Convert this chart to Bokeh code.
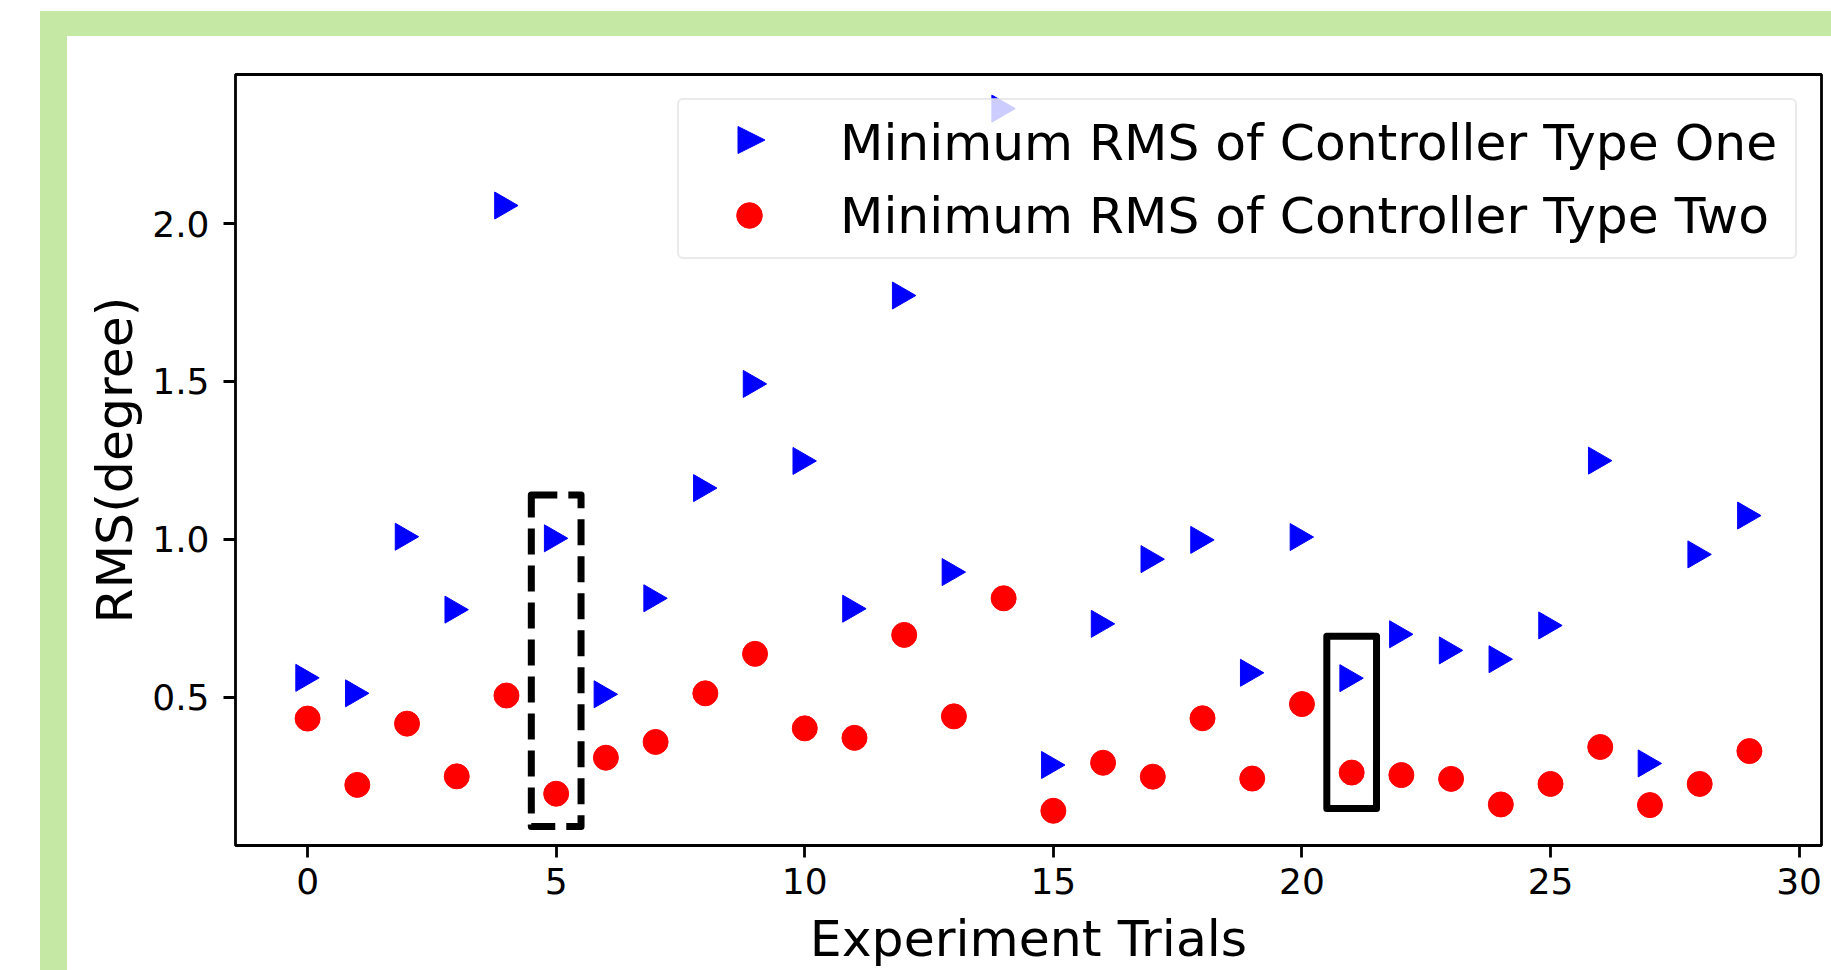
import math
from bokeh.plotting import figure
from bokeh.models import (Range1d, FixedTicker, Legend, LegendItem, ColumnDataSource,
                          PolyAnnotation, BoxAnnotation, GlobalInlineStyleSheet)
from bokeh.transform import dodge
from bokeh.embed import file_html
from bokeh.resources import INLINE

# ---------------- data ----------------
trials = list(range(30))
rms_type_one = [0.561, 0.512, 1.008, 0.777, 2.057, 1.003, 0.509, 0.813, 1.162, 1.492,
                1.248, 0.780, 1.772, 0.896, 2.364, 0.285, 0.732, 0.937, 0.998, 0.577,
                1.007, 0.560, 0.699, 0.648, 0.620, 0.727, 1.249, 0.290, 0.952, 1.075]
rms_type_two = [0.432, 0.222, 0.416, 0.249, 0.505, 0.194, 0.308, 0.358, 0.512, 0.637,
                0.401, 0.371, 0.697, 0.439, 0.813, 0.140, 0.292, 0.248, 0.433, 0.242,
                0.478, 0.261, 0.253, 0.241, 0.160, 0.225, 0.342, 0.158, 0.225, 0.329]
series_labels = ["Minimum RMS of Controller Type One", "Minimum RMS of Controller Type Two"]
x_ticks = [0, 5, 10, 15, 20, 25, 30]
y_ticks = [0.5, 1.0, 1.5, 2.0]
y_tick_labels = ["0.5", "1.0", "1.5", "2.0"]
x_label = "Experiment Trials"
y_label = "RMS(degree)"
x_limits = (-1.45, 30.45)
y_limits = (0.030, 2.472)
# highlight boxes (data units)
dashed_box = dict(left=[4.5], right=[5.5], bottom=[0.09], top=[1.14])
solid_box = dict(left=[20.5], right=[21.5], bottom=[0.147], top=[0.693])

# ---------------- style ----------------
FONT = "DejaVu Sans"
GREEN = "#c5e8a5"
BLUE = "#0000ff"
RED = "#ff0000"
LABEL_SIZE = "50.5px"
LEGEND_SIZE = "50.3px"
TRI_SIZE = 27

# layout (canvas pixels)
BORDER_L, BORDER_R, BORDER_T, BORDER_B = 168, 10, 38, 145
FIG_W, FIG_H = 1764, 954
FRAME_R = FIG_W - BORDER_R
LEG_MARGIN, LEG_PAD, LEG_SPACING = 24, 10, 9
LEG_GLYPH_W, LEG_ROW_H = 120, 64
LEG_W, LEG_H = 1118, 2 * LEG_ROW_H + LEG_SPACING + 2 * LEG_PAD

p = figure(width=FIG_W, height=FIG_H, output_backend="svg", toolbar_location=None,
           title=None,
           x_range=Range1d(*x_limits), y_range=Range1d(*y_limits),
           min_border_left=BORDER_L, min_border_right=BORDER_R,
           min_border_top=BORDER_T, min_border_bottom=BORDER_B,
           background_fill_color="white", border_fill_color="white")
p.styles = {
    "position": "absolute",
    "left": "67px",
    "top": "36px",
    "box-shadow": f"-27px 0 0 0 {GREEN}, 0 -25px 0 0 {GREEN}, -27px -25px 0 0 {GREEN}",
}
p.stylesheets = [GlobalInlineStyleSheet(css="html, body { overflow: hidden; }")]
p.xgrid.visible = False
p.ygrid.visible = False
p.outline_line_color = "black"
p.outline_line_width = 2.8
p.outline_line_alpha = 1.0

src = ColumnDataSource(dict(trial=trials, one=rms_type_one, two=rms_type_two))
r1 = p.scatter(x=dodge("trial", -0.08), y="one", source=src, marker="triangle",
               size=TRI_SIZE, angle=-math.pi / 2, fill_color=BLUE, line_color=BLUE)
r2 = p.scatter(x="trial", y="two", source=src, marker="circle", size=25,
               fill_color=RED, line_color=RED)

p.quad(source=ColumnDataSource(dashed_box), left="left", right="right", bottom="bottom", top="top",
       fill_color=None, line_color="black", line_width=7, line_dash="26 11", line_join="round")
p.quad(source=ColumnDataSource(solid_box), left="left", right="right", bottom="bottom", top="top",
       fill_color=None, line_color="black", line_width=7, line_join="round")

# translucent legend background (drawn as its own layer so that the
# right-pointing legend swatch can sit on top of it)
leg_right = FRAME_R - LEG_MARGIN
leg_top = BORDER_T + LEG_MARGIN
legend_bg = BoxAnnotation(left=leg_right - LEG_W, right=leg_right,
                          top=leg_top, bottom=leg_top + LEG_H,
                          left_units="canvas", right_units="canvas",
                          top_units="canvas", bottom_units="canvas",
                          fill_color="white", fill_alpha=0.8, line_color=None,
                          level="annotation")
p.add_layout(legend_bg)

# right-pointing swatch for series one (Bokeh legends never rotate markers)
cx = leg_right - LEG_W + LEG_PAD + LEG_GLYPH_W / 2 + 2
cy = leg_top + LEG_PAD + LEG_ROW_H / 2 - 0.5
half = TRI_SIZE / 2
swatch = PolyAnnotation(xs=[cx - half, cx + half, cx - half], ys=[cy - half, cy, cy + half],
                        xs_units="canvas", ys_units="canvas",
                        fill_color=BLUE, fill_alpha=1.0, line_color=BLUE, line_alpha=1.0,
                        line_width=1, level="annotation")
p.add_layout(swatch)

# invisible key renderer for series one's legend row
r1_key = p.scatter(x=[], y=[], marker="triangle", size=TRI_SIZE,
                   fill_alpha=0, line_alpha=0)

legend = Legend(
    items=[LegendItem(label=series_labels[0], renderers=[r1_key]),
           LegendItem(label=series_labels[1], renderers=[r2])],
    location="top_right", margin=LEG_MARGIN, padding=LEG_PAD, spacing=LEG_SPACING,
    glyph_width=LEG_GLYPH_W, glyph_height=LEG_ROW_H, label_height=LEG_ROW_H,
    label_width=945, label_standoff=31,
    label_text_font=FONT, label_text_font_size=LEGEND_SIZE, label_text_color="black",
    border_line_color="#d6d6d6", border_line_width=2.8,
    background_fill_color="white", background_fill_alpha=0.0,
    level="annotation",
)
if "border_radius" in legend.properties():
    legend.border_radius = 6
p.add_layout(legend)

for ax in (p.xaxis[0], p.yaxis[0]):
    ax.axis_line_color = None
    ax.major_tick_out = 12
    ax.major_tick_in = 0
    ax.major_tick_line_width = 2.8
    ax.major_tick_line_color = "black"
    ax.minor_tick_line_color = None
    ax.major_label_text_font = FONT
    ax.major_label_text_font_size = "36px"
    ax.major_label_text_color = "black"
    ax.axis_label_text_font = FONT
    ax.axis_label_text_font_size = LABEL_SIZE
    ax.axis_label_text_font_style = "normal"
    ax.axis_label_text_color = "black"

p.xaxis.ticker = FixedTicker(ticks=x_ticks)
p.yaxis.ticker = FixedTicker(ticks=y_ticks)
p.yaxis.major_label_overrides = dict(zip(y_ticks, y_tick_labels))
p.xaxis.axis_label = x_label
p.yaxis.axis_label = y_label
p.xaxis.major_label_standoff = 10
p.xaxis.axis_label_standoff = 12
p.yaxis.major_label_standoff = 14
p.yaxis.axis_label_standoff = 5

open("out.html", "w").write(file_html(p, INLINE))
